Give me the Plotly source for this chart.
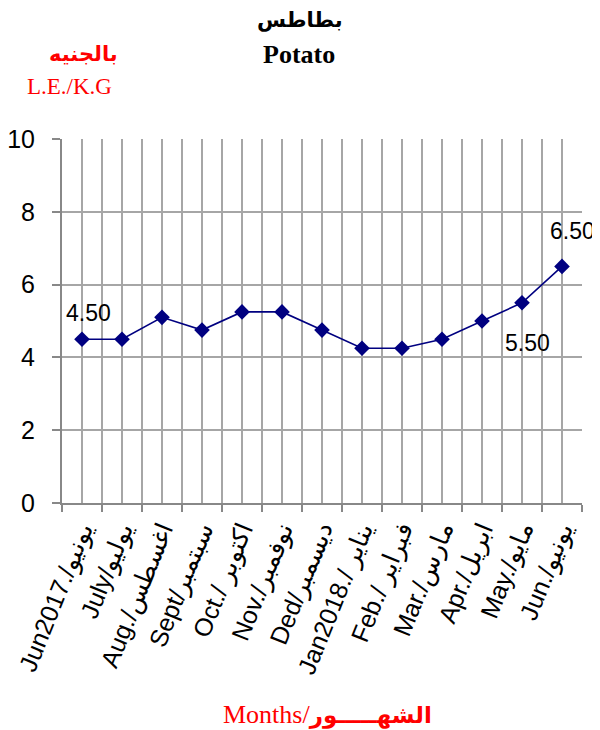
import plotly.graph_objects as go

months = ["Jun2017./يونيو", "July/يوليو", "Aug./اغسطس", "Sept/سبتمبر", "Oct./ اكتوبر",
          "Nov./نوفمبر", "Ded/ديسمبر", "Jan2018./ يناير", "Feb./ فبراير", "Mar./مارس",
          "Apr./ابريل", "May./مايو", "Jun./يونيو"]
prices = [4.5, 4.5, 5.1, 4.75, 5.25, 5.25, 4.75, 4.25, 4.25, 4.5, 5.0, 5.5, 6.5]
labelled = {0: (6, 26), 11: (5, -40), 12: (10, 35)}  # index -> (xshift, yshift)
y_ticks = [0, 2, 4, 6, 8, 10]

idx = list(range(len(months)))
GRID = "#a6a6a6"
AXIS = "#888888"

fig = go.Figure()
fig.add_trace(go.Scatter(
    x=idx, y=prices, mode="lines+markers",
    line=dict(color="#000080", width=1.6),
    marker=dict(symbol="diamond", size=12, color="#000080"),
    showlegend=False, hoverinfo="skip"))

annotations = []
for i, (xs, ys) in labelled.items():
    annotations.append(dict(x=i, y=prices[i], xref="x", yref="y", text=f"{prices[i]:.2f}",
                            showarrow=False, xshift=xs, yshift=ys,
                            xanchor="center", yanchor="middle",
                            font=dict(family="Liberation Sans, Arial", size=23, color="black")))

red = "#ff0000"
def note(x, y, text, family, size, color):
    return dict(x=x, y=y, xref="paper", yref="paper", text=text, showarrow=False,
                xanchor="center", yanchor="middle",
                font=dict(family=family, size=size, color=color))

serif = "Liberation Serif, Times New Roman"
annotations += [
    note(0.458, 1.328, "<b>بطاطس</b>", "DejaVu Sans", 21, "black"),
    note(0.455, 1.231, "<b>Potato</b>", serif, 26, "black"),
    note(0.042, 1.233, "<b>بالجنيه</b>", "DejaVu Sans", 21, red),
    note(0.0135, 1.143, "L.E./K.G", serif, 23, red),
    note(0.5115, -0.582,
         "Months/<b><span style='font-family:DejaVu Sans;font-size:23px'>الشهـــــور</span></b>",
         serif, 26, red),
]

fig.update_layout(
    width=592, height=722,
    margin=dict(l=54, r=18, t=131, b=227),
    plot_bgcolor="white", paper_bgcolor="white",
    annotations=annotations,
    xaxis=dict(
        range=[-0.5, len(months) - 0.5], automargin=False,
        tickmode="array", tickvals=idx, ticktext=months, tickangle=-68,
        ticks="", showgrid=True, gridcolor=GRID, gridwidth=2,
        showline=True, linecolor=AXIS, linewidth=2,
        tickfont=dict(family="Liberation Sans, Arial", size=25, color="black"),
        minor=dict(tickmode="array", tickvals=[i - 0.5 for i in range(len(months) + 1)],
                   ticks="outside", ticklen=7, tickcolor=AXIS, tickwidth=2,
                   showgrid=True, gridcolor=GRID, gridwidth=2),
        zeroline=False, fixedrange=True,
    ),
    yaxis=dict(
        range=[0, 10], tickmode="array", tickvals=y_ticks, automargin=False,
        ticks="outside", ticklen=8, tickcolor=AXIS, tickwidth=2,
        showgrid=True, gridcolor=GRID, gridwidth=2,
        showline=True, linecolor=AXIS, linewidth=2, zeroline=False,
        tickfont=dict(family="Liberation Sans, Arial", size=25, color="black"),
        ticklabelstandoff=12,
    ),
)

fig.write_html("out.html")
